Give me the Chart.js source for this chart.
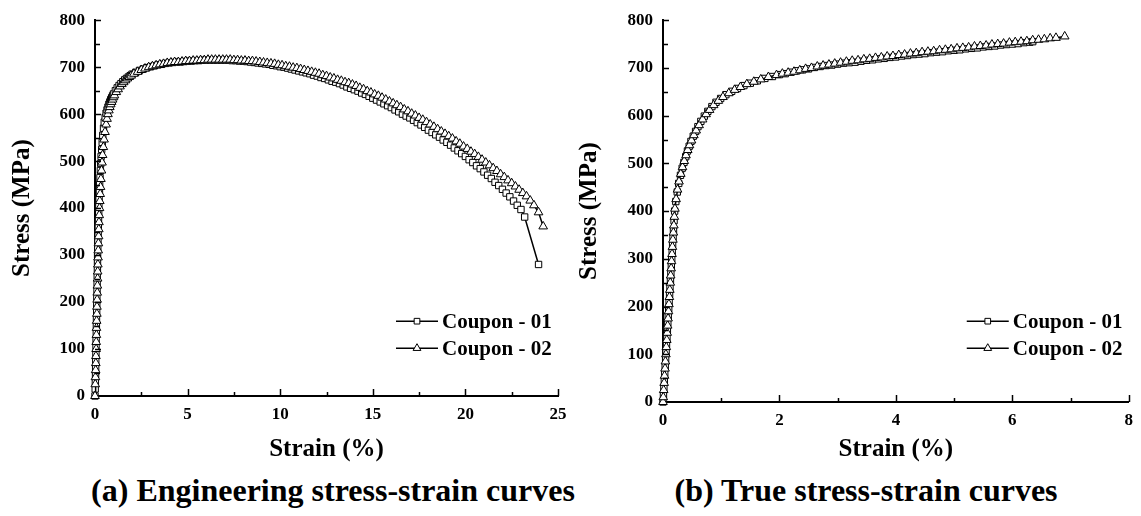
<!DOCTYPE html>
<html>
<head>
<meta charset="utf-8">
<script src="https://cdn.jsdelivr.net/npm/chart.js@4.4.1/dist/chart.umd.min.js"></script>
<style>
  body { margin: 0; width: 1141px; height: 516px; background: #fff; position: relative; overflow: hidden; }
  canvas { position: absolute; top: 0; }
  .cap { position: absolute; top: 472px; width: 560px; text-align: center;
         font: bold 32px "Liberation Serif", serif; line-height: 36px; color: #000; }
</style>
</head>
<body>
<canvas id="engChart" width="575" height="470" style="left:0"></canvas>
<canvas id="trueChart" width="566" height="470" style="left:575px"></canvas>
<div class="cap" style="left:53px">(a) Engineering stress-strain curves</div>
<div class="cap" style="left:586px">(b) True stress-strain curves</div>
<script>
// engineering curves, strain (%) / stress (MPa)
const engStrain01 = [0, 0.01, 0.02, 0.03, 0.035, 0.04, 0.05, 0.055, 0.06, 0.07,
  0.075, 0.08, 0.09, 0.095, 0.1, 0.11, 0.115, 0.12, 0.13, 0.135,
  0.14, 0.15, 0.16, 0.17, 0.18, 0.19, 0.2, 0.21, 0.22, 0.24,
  0.25, 0.27, 0.29, 0.31, 0.33, 0.36, 0.39, 0.42, 0.46,
  0.5, 0.55, 0.6, 0.65, 0.7, 0.75, 0.8, 0.85, 0.9, 0.95,
  1.0, 1.1, 1.2, 1.3, 1.4, 1.5, 1.6, 1.7, 1.8, 1.9,
  2.0, 2.2, 2.4, 2.6, 2.8, 3.0, 3.2, 3.4, 3.6, 3.8,
  4.0, 4.2, 4.4, 4.6, 4.8, 5.0, 5.2, 5.4, 5.6, 5.8,
  6.0, 6.2, 6.4, 6.6, 6.8, 7.0, 7.2, 7.4, 7.6, 7.8,
  8.0, 8.2, 8.4, 8.6, 8.8, 9.0, 9.2, 9.4, 9.6, 9.8,
  10.0, 10.2, 10.4, 10.6, 10.8, 11.0, 11.2, 11.4, 11.6, 11.8,
  12.0, 12.2, 12.4, 12.6, 12.8, 13.0, 13.2, 13.4, 13.6, 13.8,
  14.0, 14.2, 14.4, 14.6, 14.8, 15.0, 15.2, 15.4, 15.6, 15.8,
  16.0, 16.2, 16.4, 16.6, 16.8, 17.0, 17.2, 17.4, 17.6, 17.8,
  18.0, 18.2, 18.4, 18.6, 18.8, 19.0, 19.2, 19.4, 19.6, 19.8,
  20.0, 20.2, 20.4, 20.6, 20.8, 21.0, 21.2, 21.4, 21.6, 21.8,
  22.0, 22.2, 22.4, 22.6, 22.8, 23.0, 23.2, 23.95];
const engStress01 = [0, 15, 30, 45, 60, 75, 90, 105, 120, 135,
  150, 165, 180, 195, 210, 225, 240, 255, 270, 285,
  300, 315, 330, 345, 360, 375, 390, 405, 420, 435,
  450, 465, 480, 495, 510, 525, 540, 555, 570,
  583, 593, 602, 609, 615, 621, 626, 631, 635, 639,
  643, 650, 656, 661, 665, 669, 673, 676, 679, 682,
  685, 689, 693, 696, 699, 701, 703, 705, 706, 708,
  709, 710, 711, 711, 712, 713, 713, 714, 714, 715,
  715, 715, 715, 715, 715, 715, 715, 714, 714, 713,
  713, 712, 711, 710, 709, 708, 707, 706, 704, 703,
  701, 700, 698, 696, 694, 692, 690, 688, 686, 683,
  681, 678, 676, 673, 670, 668, 665, 662, 658, 655,
  652, 649, 645, 642, 638, 634, 630, 626, 622, 618,
  614, 609, 605, 600, 596, 592, 587, 582, 577, 572,
  566, 561, 556, 551, 545, 540, 534, 528, 522, 516,
  510, 503, 497, 490, 484, 477, 470, 463, 455, 448,
  440, 432, 424, 415, 406, 397, 381, 280];

const engStrain02 = [0, 0.015, 0.025, 0.035, 0.045, 0.05, 0.06, 0.065, 0.075, 0.08,
  0.09, 0.1, 0.105, 0.115, 0.12, 0.13, 0.14, 0.145, 0.155, 0.165,
  0.175, 0.185, 0.195, 0.205, 0.215, 0.23, 0.245, 0.26, 0.28, 0.3,
  0.32, 0.35, 0.38, 0.41, 0.45,
  0.49, 0.54, 0.6, 0.65, 0.7, 0.75, 0.8, 0.85, 0.9, 0.95,
  1.0, 1.05, 1.15, 1.25, 1.35, 1.45, 1.55, 1.65, 1.75, 1.85, 1.95,
  2.1, 2.3, 2.5, 2.7, 2.9, 3.1, 3.3, 3.5, 3.7, 3.9,
  4.1, 4.3, 4.5, 4.7, 4.9, 5.1, 5.3, 5.5, 5.7, 5.9,
  6.1, 6.3, 6.5, 6.7, 6.9, 7.1, 7.3, 7.5, 7.7, 7.9,
  8.1, 8.3, 8.5, 8.7, 8.9, 9.1, 9.3, 9.5, 9.7, 9.9,
  10.1, 10.3, 10.5, 10.7, 10.9, 11.1, 11.3, 11.5, 11.7, 11.9,
  12.1, 12.3, 12.5, 12.7, 12.9, 13.1, 13.3, 13.5, 13.7, 13.9,
  14.1, 14.3, 14.5, 14.7, 14.9, 15.1, 15.3, 15.5, 15.7, 15.9,
  16.1, 16.3, 16.5, 16.7, 16.9, 17.1, 17.3, 17.5, 17.7, 17.9,
  18.1, 18.3, 18.5, 18.7, 18.9, 19.1, 19.3, 19.5, 19.7, 19.9,
  20.1, 20.3, 20.5, 20.7, 20.9, 21.1, 21.3, 21.5, 21.7, 21.9,
  22.1, 22.3, 22.5, 22.7, 22.9, 23.1, 23.3, 23.5, 23.7, 23.95, 24.2];
const engStress02 = [0, 25, 40, 55, 70, 85, 100, 115, 130, 145,
  160, 175, 190, 205, 220, 235, 250, 265, 280, 295,
  310, 325, 340, 355, 370, 385, 400, 415, 430, 445,
  462, 480, 497, 513, 530,
  546, 562, 578, 590, 600, 608, 615, 621, 626, 631,
  636, 640, 647, 653, 659, 664, 668, 672, 676, 679, 682,
  686, 690, 694, 697, 700, 702, 704, 706, 707, 709,
  710, 711, 711, 712, 713, 713, 714, 714, 715, 715,
  716, 716, 716, 716, 716, 716, 716, 715, 715, 714,
  714, 713, 713, 712, 711, 710, 709, 708, 707, 705,
  704, 702, 701, 699, 698, 696, 694, 692, 690, 688,
  686, 683, 681, 678, 676, 673, 671, 668, 666, 663,
  660, 656, 653, 649, 646, 642, 639, 635, 631, 627,
  623, 619, 615, 610, 606, 601, 597, 592, 588, 583,
  578, 573, 568, 563, 558, 553, 548, 542, 537, 531,
  526, 520, 515, 509, 503, 497, 491, 485, 479, 472,
  466, 459, 453, 446, 439, 432, 425, 416, 406, 391, 361];

// true curves
const trueStrain01 = [0, 0.008, 0.015, 0.023, 0.03, 0.038, 0.045, 0.053, 0.06, 0.068,
  0.075, 0.083, 0.09, 0.098, 0.105, 0.113, 0.12, 0.128, 0.135, 0.143,
  0.15, 0.158, 0.165, 0.173, 0.18, 0.19, 0.2,
  0.22, 0.245, 0.27, 0.3, 0.33, 0.36, 0.39, 0.42, 0.45, 0.48,
  0.52, 0.56, 0.6, 0.65, 0.71, 0.77, 0.84, 0.91, 0.99, 1.08,
  1.18, 1.28, 1.39, 1.5, 1.62, 1.75, 1.88,
  2.0, 2.1, 2.2, 2.3, 2.4, 2.5, 2.6, 2.7, 2.8, 2.9,
  3.0, 3.1, 3.2, 3.3, 3.4, 3.5, 3.6, 3.7, 3.8, 3.9,
  4.0, 4.1, 4.2, 4.3, 4.4, 4.5, 4.6, 4.7, 4.8, 4.9,
  5.0, 5.1, 5.2, 5.3, 5.4, 5.5, 5.6, 5.7, 5.8, 5.9,
  6.0, 6.1, 6.2, 6.3, 6.35];
const trueStress01 = [0, 15, 30, 45, 60, 75, 90, 105, 120, 135,
  150, 165, 180, 195, 210, 225, 240, 255, 270, 285,
  300, 315, 330, 345, 360, 380, 400,
  420, 440, 458, 475, 490, 502, 514, 526, 536, 546,
  557, 567, 577, 588, 599, 609, 619, 628, 636, 644,
  651, 657, 663, 668, 673, 678, 682,
  686, 688, 691, 694, 696, 698, 701, 703, 705, 706,
  708, 710, 711, 712, 714, 716, 717, 719, 720, 722,
  723, 725, 726, 728, 729, 730, 732, 733, 734, 736,
  737, 738, 740, 741, 742, 744, 745, 746, 748, 749,
  750, 751, 753, 754, 755];

const trueStrain02 = [0, 0.005, 0.012, 0.02, 0.027, 0.035, 0.042, 0.05, 0.057, 0.065,
  0.072, 0.08, 0.087, 0.095, 0.102, 0.11, 0.117, 0.125, 0.132, 0.14,
  0.147, 0.155, 0.162, 0.17, 0.178, 0.186, 0.195, 0.205,
  0.225, 0.25, 0.275, 0.305, 0.335, 0.365, 0.395, 0.425, 0.455, 0.49,
  0.53, 0.57, 0.62, 0.68, 0.74, 0.8, 0.87, 0.95, 1.03, 1.13,
  1.23, 1.33, 1.44, 1.56, 1.68, 1.81, 1.95,
  2.05, 2.15, 2.25, 2.35, 2.45, 2.55, 2.65, 2.75, 2.85, 2.95,
  3.05, 3.15, 3.25, 3.35, 3.45, 3.55, 3.65, 3.75, 3.85, 3.95,
  4.05, 4.15, 4.25, 4.35, 4.45, 4.55, 4.65, 4.75, 4.85, 4.95,
  5.05, 5.15, 5.25, 5.35, 5.45, 5.55, 5.65, 5.75, 5.85, 5.95,
  6.05, 6.15, 6.25, 6.35, 6.45, 6.55, 6.65, 6.75, 6.9];
const trueStress02 = [0, 10, 25, 40, 55, 70, 85, 100, 115, 130,
  145, 160, 175, 190, 205, 220, 235, 250, 265, 280,
  295, 310, 325, 340, 355, 370, 388, 405,
  425, 445, 462, 478, 492, 505, 517, 528, 538, 548,
  559, 569, 580, 592, 603, 612, 622, 631, 639, 647,
  654, 660, 666, 671, 676, 681, 685,
  688, 690, 692, 695, 698, 700, 703, 705, 707, 709,
  711, 713, 715, 716, 718, 719, 721, 722, 724, 725,
  727, 728, 730, 731, 733, 734, 735, 737, 738, 739,
  741, 742, 743, 745, 746, 747, 749, 750, 751, 753,
  754, 755, 756, 758, 759, 760, 762, 763, 766];

const seriesLabels = ['Coupon - 01', 'Coupon - 02'];
const yTicks = { min: 0, max: 800, step: 100, minor: 50 };

const SERIF = "'Liberation Serif', serif";
Chart.defaults.font.family = SERIF;
Chart.defaults.color = '#000';

function pts(xs, ys) {
  return xs.map((x, i) => ({ x: x, y: ys[i] }));
}

// tick marks pointing into the plot, with minor ticks
const inwardTicks = {
  id: 'inwardTicks',
  afterDatasetsDraw(chart, args, opts) {
    const ctx = chart.ctx;
    const xs = chart.scales.x, ys = chart.scales.y;
    const a = chart.chartArea;
    ctx.save();
    ctx.strokeStyle = '#000';
    ctx.lineWidth = 1.5;
    for (let v = xs.min + opts.xMinor; v <= xs.max + 1e-9; v += opts.xMinor) {
      const px = Math.round(xs.getPixelForValue(v)) + 0.5;
      const r = v / opts.xMajor;
      const len = Math.abs(r - Math.round(r)) < 1e-6 ? 7 : 4;
      ctx.beginPath();
      ctx.moveTo(px, a.bottom);
      ctx.lineTo(px, a.bottom - len);
      ctx.stroke();
    }
    for (let v = ys.min + opts.yMinor; v <= ys.max + 1e-9; v += opts.yMinor) {
      const py = Math.round(ys.getPixelForValue(v)) + 0.5;
      const r = v / opts.yMajor;
      const len = Math.abs(r - Math.round(r)) < 1e-6 ? 6 : 5;
      ctx.beginPath();
      ctx.moveTo(a.left, py);
      ctx.lineTo(a.left + len, py);
      ctx.stroke();
    }
    ctx.restore();
  }
};

// legend drawn inside the plot, "-□- label"
const innerLegend = {
  id: 'innerLegend',
  afterDraw(chart, args, opts) {
    const ctx = chart.ctx;
    const a = chart.chartArea;
    ctx.save();
    chart.data.datasets.forEach((ds, i) => {
      const y = a.top + opts.top + i * opts.rowGap;
      const x0 = a.right - opts.right;
      ctx.strokeStyle = '#000';
      ctx.lineWidth = 1.5;
      ctx.beginPath();
      ctx.moveTo(x0, y);
      ctx.lineTo(x0 + 42, y);
      ctx.stroke();
      ctx.fillStyle = '#fff';
      ctx.lineWidth = 1;
      Chart.helpers.drawPoint(ctx, { pointStyle: ds.pointStyle, radius: ds.pointRadius - 0.5, borderWidth: 1, rotation: 0 }, x0 + 21, y);
      ctx.fillStyle = '#000';
      ctx.font = 'bold 21px ' + SERIF;
      ctx.textBaseline = 'middle';
      ctx.fillText(ds.label, x0 + 46, y + 1);
    });
    ctx.restore();
  }
};

function dataset(label, data, style, radius, order) {
  return {
    label: label,
    data: data,
    showLine: true,
    borderColor: '#000',
    borderWidth: 1.5,
    pointStyle: style,
    pointRadius: radius,
    pointBorderWidth: 1,
    pointBorderColor: '#000',
    pointBackgroundColor: '#fff',
    clip: false,
    order: order
  };
}

function makeChart(id, sets, xMax, xStep, xMinor, yAxisWidth, xAxisHeight, pad, titlePad) {
  return new Chart(document.getElementById(id), {
    type: 'scatter',
    data: { datasets: sets },
    plugins: [inwardTicks, innerLegend],
    options: {
      responsive: false,
      animation: false,
      events: [],
      layout: { padding: pad, autoPadding: false },
      plugins: {
        legend: { display: false },
        tooltip: { enabled: false },
        inwardTicks: { xMinor: xMinor, xMajor: xStep, yMinor: yTicks.minor, yMajor: yTicks.step },
        innerLegend: { top: 301, rowGap: 27, right: 162 }
      },
      scales: {
        x: {
          type: 'linear', min: 0, max: xMax,
          ticks: { stepSize: xStep, padding: 8, color: '#000', font: { family: SERIF, size: 17, weight: 'bold' } },
          grid: { display: false, drawTicks: false },
          border: { color: '#000', width: 2 },
          title: { display: true, text: 'Strain (%)', color: '#000',
                   font: { family: SERIF, size: 25, weight: 'bold', lineHeight: 1 }, padding: { top: 0, bottom: 8 } },
          afterFit(s) { s.height = xAxisHeight; }
        },
        y: {
          type: 'linear', min: yTicks.min, max: yTicks.max,
          ticks: { stepSize: yTicks.step, padding: 10, color: '#000', font: { family: SERIF, size: 17, weight: 'bold' } },
          grid: { display: false, drawTicks: false },
          border: { color: '#000', width: 2 },
          title: { display: true, text: 'Stress (MPa)', color: '#000',
                   font: { family: SERIF, size: 25, weight: 'bold', lineHeight: 1 }, padding: { top: titlePad, bottom: 0 } },
          afterFit(s) { s.width = yAxisWidth; }
        }
      }
    }
  });
}

function build() {
  makeChart('engChart', [
    dataset(seriesLabels[0], pts(engStrain01, engStress01), 'rect', 4.5, 1),
    dataset(seriesLabels[1], pts(engStrain02, engStress02), 'triangle', 5, 0)
  ], 25, 5, 2.5, 95, 74, { top: 19, right: 17, left: 0, bottom: 0 }, 10);

  makeChart('trueChart', [
    dataset(seriesLabels[0], pts(trueStrain01, trueStress01), 'rect', 4.5, 1),
    dataset(seriesLabels[1], pts(trueStrain02, trueStress02), 'triangle', 5, 0)
  ], 8, 2, 1, 88, 68, { top: 19, right: 7, left: 0, bottom: 0 }, 2);
}

// make sure the serif face is ready before the canvas text is drawn
document.fonts.load("bold 17px 'Liberation Serif'").then(build, build);
</script>
</body>
</html>
